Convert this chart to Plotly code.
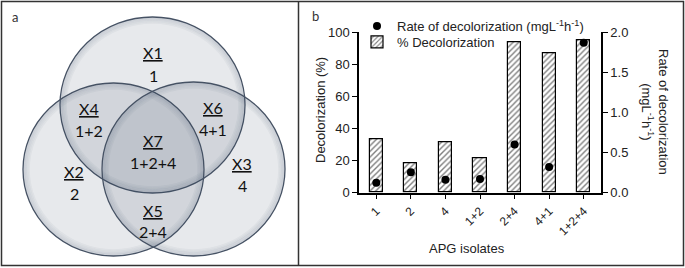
import plotly.graph_objects as go

W, H = 685, 268

# ---- data ----
isolates = ["1", "2", "4", "1+2", "2+4", "4+1", "1+2+4"]
decolorization_pct = [33.3, 18.3, 31.6, 21.6, 93.5, 86.9, 95.0]
decolorization_rate = [0.125, 0.254, 0.162, 0.171, 0.60, 0.32, 1.87]
left_ticks = [0, 20, 40, 60, 80, 100]
right_ticks = [0.0, 0.5, 1.0, 1.5, 2.0]

venn_names = ["X1", "X2", "X3", "X4", "X5", "X6", "X7"]
venn_members = ["1", "2", "4", "1+2", "2+4", "4+1", "1+2+4"]

# ---- layout helpers (pixel -> paper) ----
def px(x):
    return x / W

def py(y):
    return 1 - y / H

# Venn geometry (pixel space): (cx, cy, rx, ry)
venn_circles = [(152.5, 105, 92.5, 88), (113.5, 169.5, 90.5, 86.5), (193.5, 169, 91.5, 87)]
venn_label_pos = [(153, 53), (74, 171), (242, 163), (89, 108), (153, 210), (213, 107), (153, 140)]
ring_insets = [1.5, 3.0, 4.5, 6.0]

FONT = "Liberation Sans, Arial, sans-serif"
VFONT = "Lato, Liberation Sans, sans-serif"

fig = go.Figure()

fig.add_trace(go.Scatter(
    x=isolates, y=decolorization_rate, mode="markers", yaxis="y2",
    marker=dict(color="black", size=8), legend="legend",
    name="Rate of decolorization (mgL<sup>-1</sup>h<sup>-1</sup>)",
))
fig.add_trace(go.Bar(
    x=isolates, y=decolorization_pct, width=0.38, legend="legend2",
    marker=dict(color="white", line=dict(color="black", width=1.2),
                pattern=dict(shape="/", fgcolor="black", bgcolor="white", size=4, solidity=0.35)),
    name="% Decolorization",
))

shapes = []
shapes.append(dict(type="rect", xref="paper", yref="paper", x0=px(1.5), x1=px(683.5), y0=py(265.5), y1=py(1.5),
                   line=dict(color="#333333", width=1.5), layer="below"))
shapes.append(dict(type="line", xref="paper", yref="paper", x0=px(298.5), x1=px(298.5), y0=py(265.5), y1=py(1.5),
                   line=dict(color="#333333", width=1.5), layer="below"))
for cx, cy, rx, ry in venn_circles:
    shapes.append(dict(type="circle", xref="paper", yref="paper",
                       x0=px(cx - rx), x1=px(cx + rx), y0=py(cy + ry), y1=py(cy - ry),
                       fillcolor="rgba(60,75,100,0.12)", line=dict(color="#465264", width=1.3), layer="below"))
    for i, d in enumerate(ring_insets):
        shapes.append(dict(type="circle", xref="paper", yref="paper",
                           x0=px(cx - rx + d), x1=px(cx + rx - d), y0=py(cy + ry - d), y1=py(cy - ry + d),
                           fillcolor="rgba(0,0,0,0)",
                           line=dict(color=f"rgba(70,85,110,{0.16 - 0.035 * i:.3f})", width=1.6), layer="below"))

def ann(x, y, text, size=13, family=FONT, color="#222", angle=0):
    return dict(x=px(x), y=py(y), xref="paper", yref="paper", showarrow=False, text=text,
                xanchor="center", yanchor="middle", textangle=angle,
                font=dict(family=family, size=size, color=color))

annotations = []
for (x, y), n, m in zip(venn_label_pos, venn_names, venn_members):
    annotations.append(ann(x, y, f"<u>{n}</u>", 16, VFONT, "#111"))
    annotations.append(ann(x, y + 22, m, 16, VFONT, "#111"))

annotations += [
    ann(15, 17, "a", 13, VFONT, "#333"),
    ann(315, 16, "b", 13, VFONT, "#333"),
    ann(467, 248, "APG isolates"),
    ann(321, 110, "Decolorization (%)", angle=-90),
    ann(655, 112, "Rate of decolorization<br>(mgL<sup>-1</sup>h<sup>-1</sup>)", angle=90),
]

fig.update_layout(
    width=W, height=H, autosize=False,
    margin=dict(l=0, r=0, t=0, b=0, pad=0, autoexpand=False),
    paper_bgcolor="white", plot_bgcolor="white",
    font=dict(family=FONT, size=13, color="#222"),
    shapes=shapes, annotations=annotations,
    xaxis=dict(domain=[px(359), px(601)], range=[-0.5, 6.5], showline=True, linecolor="black", linewidth=1.5,
               ticks="outside", ticklen=5, tickcolor="black", tickangle=-45, showgrid=False,
               tickfont=dict(size=12), anchor="y", automargin=False),
    yaxis=dict(domain=[py(192.7), py(32.3)], range=[0, 100], tickvals=left_ticks, showline=True,
               linecolor="black", linewidth=1.5, ticks="outside", ticklen=5, tickcolor="black",
               showgrid=False, zeroline=False, anchor="x", tickfont=dict(size=13), automargin=False),
    yaxis2=dict(overlaying="y", side="right", range=[0, 2], tickvals=right_ticks, tickformat=".1f",
                showline=True, linecolor="black", linewidth=1.5, ticks="outside", ticklen=5,
                tickcolor="black", showgrid=False, zeroline=False, anchor="x", tickfont=dict(size=13),
                automargin=False),
    legend=dict(x=px(357), y=py(26), xanchor="left", yanchor="middle", bgcolor="rgba(0,0,0,0)",
                font=dict(size=13)),
    legend2=dict(x=px(357), y=py(42), xanchor="left", yanchor="middle", bgcolor="rgba(0,0,0,0)",
                 font=dict(size=13)),
    showlegend=True, bargap=0,
)

fig.write_html("out.html", config={"displayModeBar": False},
               post_script="document.body.style.margin='0';")
